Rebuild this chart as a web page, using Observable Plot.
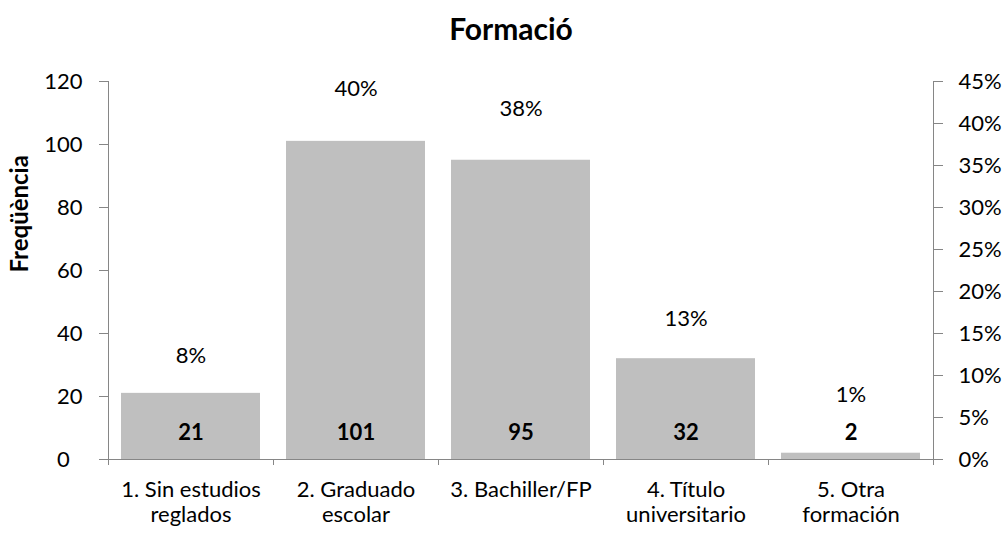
<!DOCTYPE html>
<html><head><meta charset="utf-8">
<script src="https://cdn.jsdelivr.net/npm/d3@7"></script>
<script src="https://cdn.jsdelivr.net/npm/@observablehq/plot@0.6"></script>
<style>
body{margin:0;background:#fff;font-family:Lato,sans-serif;}
#title{height:60px;line-height:56px;font-size:30px;font-weight:bold;text-align:center;width:1006px;padding-left:16px;box-sizing:border-box;color:#000}
</style></head><body>
<div id="title">Formació</div>
<div id="chart"></div>
<script>
// Data
const categories = ["1. Sin estudios\nreglados", "2. Graduado\nescolar", "3. Bachiller/FP", "4. Título\nuniversitario", "5. Otra\nformación"];
const counts = [21, 101, 95, 32, 2];
const percents = [8.37, 40.24, 37.85, 12.75, 0.80];
const countTicks = [0, 20, 40, 60, 80, 100, 120];
const percentTicks = [0, 5, 10, 15, 20, 25, 30, 35, 40, 45];
const yLabel = "Freqüència";

const countMax = 120, percentMax = 45;
const toCount = p => p * countMax / percentMax;

const data = categories.map((c, i) => ({cat: c, count: counts[i], pct: percents[i]}));

const W = 1006, H = 478, mL = 108, mR = 73, mT = 21, mB = 79;
const step = (W - mL - mR) / categories.length;
const axisColor = "#868686";
const fs = 22;

const chart = Plot.plot({
  width: W, height: H,
  marginLeft: mL, marginRight: mR, marginTop: mT, marginBottom: mB,
  style: {fontFamily: "Lato, sans-serif", fontSize: fs + "px", color: "#000", background: "#fff"},
  x: {domain: categories, paddingInner: 0.16, paddingOuter: 0.08, axis: null},
  y: {domain: [0, countMax], axis: null},
  marks: [
    Plot.barY(data, {x: "cat", y: "count", fill: "#bfbfbf"}),
    Plot.ruleY([0], {stroke: axisColor}),
    // category boundary ticks
    Plot.ruleX(categories.slice(1), {x: d => d, y1: () => 0, y2: () => 0, insetTop: 6, dx: -step / 2, stroke: axisColor}),
    // left and right axis lines
    Plot.ruleX([categories[0]], {x: d => d, dx: -step / 2, insetBottom: -6, stroke: axisColor}),
    Plot.ruleX([categories[categories.length - 1]], {x: d => d, dx: step / 2, insetBottom: -6, stroke: axisColor}),
    Plot.axisY(countTicks, {anchor: "left", tickSize: 9, tickPadding: 17, stroke: axisColor, fill: "#000", fontSize: fs,
      tickFormat: d => d === 0 ? "0\u2007" : String(d), label: null}),
    Plot.axisY(percentTicks.map(toCount), {anchor: "right", tickSize: 9, tickPadding: 16, stroke: axisColor, fill: "#000", fontSize: fs,
      tickFormat: d => Math.round(d * percentMax / countMax) + "%", label: null}),
    Plot.text(categories, {x: d => d, text: d => d, frameAnchor: "bottom", lineAnchor: "top", dy: 19, lineHeight: 25.5 / fs, fontSize: fs, fill: "#000"}),
    Plot.text([yLabel], {frameAnchor: "left", text: d => d, rotate: -90, dx: -88, dy: 2, fontWeight: "bold", fontSize: 24, fill: "#000"}),
    // count labels at base
    Plot.text(data, {x: "cat", y: () => 0, text: d => String(d.count), dy: -27, fontWeight: "bold", fontSize: fs, fill: "#000"}),
    // percent labels on secondary axis
    Plot.text(data.filter(d => d.pct >= 3), {x: "cat", y: d => toCount(d.pct), text: d => Math.round(d.pct) + "%", dy: -33, fontSize: fs, fill: "#000"}),
    Plot.text(data.filter(d => d.pct < 3), {x: "cat", y: d => toCount(d.pct), text: d => Math.round(d.pct) + "%", dy: -58, fontSize: fs, fill: "#000"})
  ]
});
document.getElementById("chart").appendChild(chart);
</script>
</body></html>
